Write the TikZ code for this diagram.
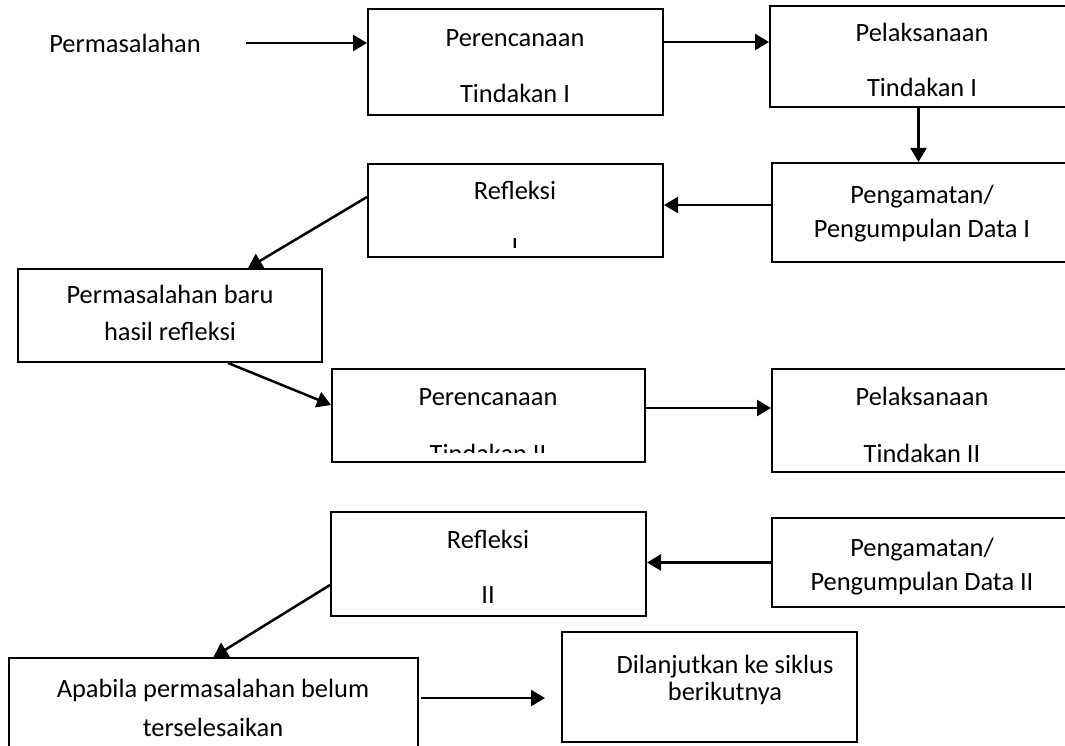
\documentclass[tikz,border=0pt]{standalone}
\usepackage{fontspec}
\setmainfont{Carlito}
\usetikzlibrary{arrows.meta}
\begin{document}
\begin{tikzpicture}[x=1pt,y=-1pt,
  box/.style={draw=black,line width=2pt,inner sep=0pt,fill=white},
  txt/.style={inner sep=0pt,anchor=base,font=\fontsize{26.4}{32}\selectfont},
  arr/.style={line width=2.5pt,-{Triangle[length=14pt,width=16pt]}},
  ln/.style={line width=2.5pt}]
\useasboundingbox (0,0) rectangle (1065,746);
\clip (0,0) rectangle (1065,746);
\fill[white] (0,0) rectangle (1065,746);
% boxes
\node[box,minimum width=295pt,minimum height=106pt] (P1) at (515.5,62) {};
\node[box,minimum width=305pt,minimum height=101pt] (L1) at (922.5,56.5) {};
\node[box,minimum width=303pt,minimum height=99pt] (O1) at (923.5,212.5) {};
\node[box,minimum width=295pt,minimum height=93pt] (R1) at (515.5,210.5) {};
\node[box,minimum width=304pt,minimum height=93pt] (PB) at (170,315.5) {};
\node[box,minimum width=313pt,minimum height=93pt] (P2) at (488.5,415.5) {};
\node[box,minimum width=303pt,minimum height=103pt] (L2) at (923.5,420.5) {};
\node[box,minimum width=303pt,minimum height=89pt] (O2) at (923.5,562.5) {};
\node[box,minimum width=315pt,minimum height=104pt] (R2) at (488.5,564) {};
\node[box,minimum width=409pt,minimum height=122pt] (AP) at (213.5,719) {};
\node[box,minimum width=295pt,minimum height=110pt] (DL) at (709.5,687) {};
% texts
\node[inner sep=0pt,font=\fontsize{26.4}{32}\selectfont] (perm) at (125,43) {Permasalahan};
\node[txt] (P1a) at (515,47) {Perencanaan};
\node[txt] (P1b) at (515,103) {Tindakan I};
\node[txt] (L1a) at (922,42) {Pelaksanaan};
\node[txt] (L1b) at (922,97) {Tindakan I};
\node[txt] (O1a) at (922,204) {Pengamatan/};
\node[txt] (O1b) at (922,237) {Pengumpulan Data I};
\node[txt] (R1a) at (515,200) {Refleksi};
\begin{scope}
\clip (368,164) rectangle (663,247);
\node[txt] (R1b) at (515,255) {I};
\end{scope}
\node[txt] (PBa) at (170,303) {Permasalahan baru};
\node[txt] (PBb) at (170,340) {hasil refleksi};
\node[txt] (P2a) at (488,405) {Perencanaan};
\begin{scope}
\clip (332,369) rectangle (645,452);
\node[txt] (P2b) at (488,462) {Tindakan II};
\end{scope}
\node[txt] (L2a) at (922,405) {Pelaksanaan};
\node[txt] (L2b) at (922,462) {Tindakan II};
\node[txt] (O2a) at (922,556) {Pengamatan/};
\node[txt] (O2b) at (922,590) {Pengumpulan Data II};
\node[txt] (R2a) at (488,548) {Refleksi};
\node[txt] (R2b) at (488,603) {II};
\node[txt] (APa) at (213,697) {Apabila permasalahan belum};
\node[txt] (APb) at (213,736) {terselesaikan};
\node[txt] (DLa) at (725,673) {Dilanjutkan ke siklus};
\node[txt] (DLb) at (725,700) {berikutnya};
% connectors
\draw[arr] ([xshift=45pt]perm.east) -- (P1.west |- perm.east);
\draw[arr] ([yshift=-34pt]P1.north east) -- ([yshift=-37pt]L1.north west);
\draw[arr] ([xshift=-4pt]L1.south) -- ([xshift=-4pt]L1.south |- O1.north);
\draw[arr] ([yshift=7.5pt]O1.west) -- ([yshift=7.5pt]O1.west -| R1.east);
\draw[arr] ([yshift=13.5pt]R1.west) -- ([xshift=78pt]PB.north);
\draw[arr] ([xshift=58pt]PB.south) -- ([yshift=10.5pt]P2.west);
\draw[arr] ([yshift=7.5pt]P2.east) -- ([yshift=7.5pt]P2.east -| L2.west);
\draw[arr] (O2.west) -- (O2.west -| R2.east);
\draw[arr] ([yshift=-21pt]R2.west) -- (AP.north);
\draw[arr] ([xshift=2pt,yshift=-41pt]AP.north east) -- ([xshift=-16pt,yshift=-41pt]AP.north east -| DL.west);
\end{tikzpicture}
\end{document}
